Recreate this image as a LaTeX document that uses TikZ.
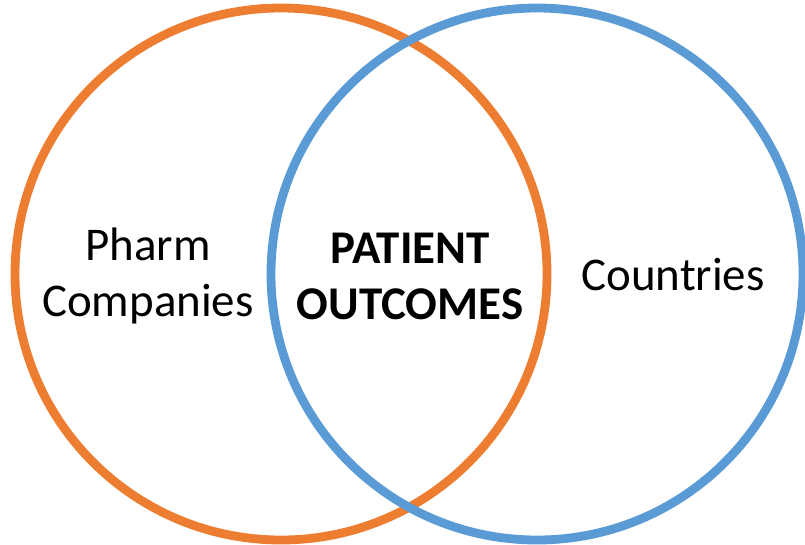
\documentclass[tikz,border=0pt]{standalone}
\usepackage{fontspec}
\setmainfont{Carlito}
\usepackage{xcolor}
\usepackage{tikz}

\definecolor{pharmorange}{RGB}{237,125,49}
\definecolor{countryblue}{RGB}{91,155,213}

\begin{document}
\begin{tikzpicture}[x=0.75pt,y=0.75pt,yscale=-1,xscale=1]
	\useasboundingbox (0,0) rectangle (805,544);
	\tikzset{ring/.style={line width=6.6pt},
		label/.style={inner sep=0.75pt,align=center,font=\fontsize{35.2}{42}\selectfont}}
	
	%Circle [id:pharm]
	\draw [ring,color=pharmorange] (281,274) circle [radius=266];
	%Circle [id:countries]
	\draw [ring,color=countryblue] (537,274) circle [radius=266];
	
	% Text Node
	\node [label] (pharm) at (148,276) {Pharm\\Companies};
	% Text Node
	\node [label,font=\fontsize{35.2}{42}\selectfont\bfseries] (outcomes) at (410,276) {PATIENT\\OUTCOMES};
	% Text Node
	\node [label] (countries) at (673,275) {Countries};
\end{tikzpicture}
\end{document}
